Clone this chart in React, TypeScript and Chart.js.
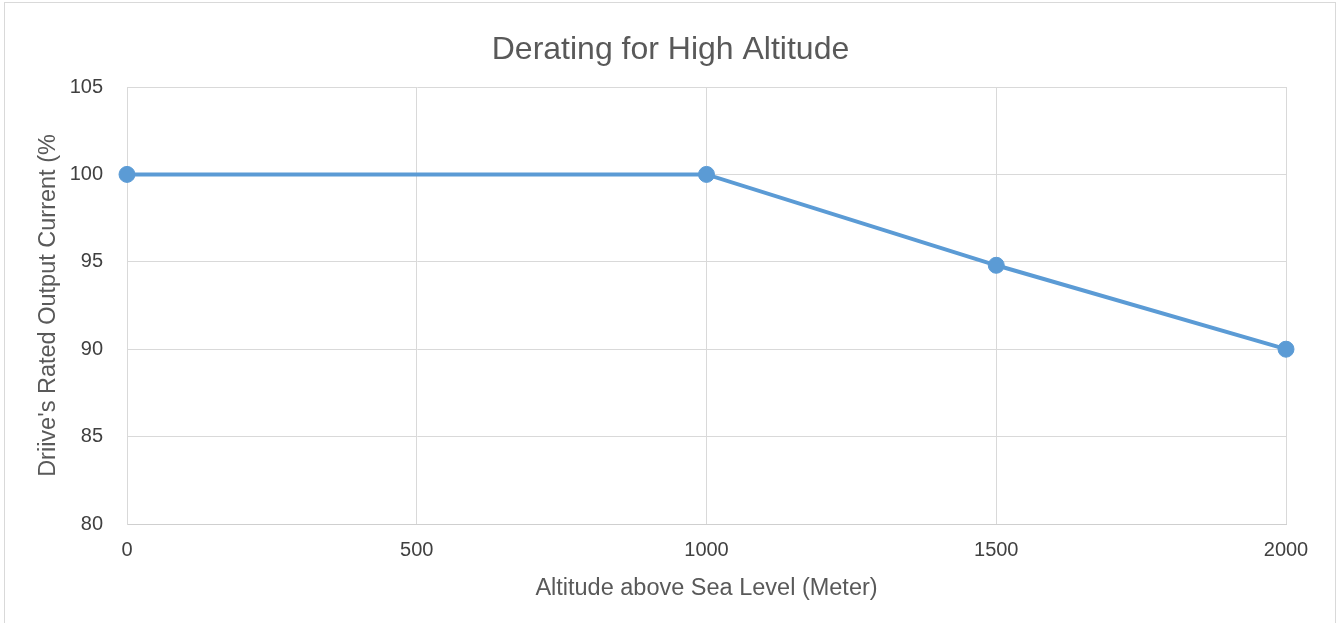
import React, { useEffect, useRef } from "react";
import { Chart, registerables } from "chart.js";

Chart.register(...registerables);

const chartTitle = "Derating for High Altitude";
const xAxisTitle = "Altitude above Sea Level (Meter)";
const yAxisTitle = "Driive's Rated Output Current (%";
const altitudes = [0, 1000, 1500, 2000];
const ratedCurrent = [100, 100, 94.8, 90];
const xTickMin = 0;
const xTickMax = 2000;
const xTickStep = 500;
const yTickMin = 80;
const yTickMax = 105;
const yTickStep = 5;

const FONT = "'Liberation Sans', Arial, sans-serif";
const GRID = "#d9d9d9";
const LINE = "#5b9bd5";

export default function App() {
  const canvasRef = useRef<HTMLCanvasElement | null>(null);

  useEffect(() => {
    const canvas = canvasRef.current;
    if (!canvas) return;
    const points = altitudes.map((x, i) => ({ x, y: ratedCurrent[i] }));
    const chart = new Chart(canvas, {
      type: "line",
      data: {
        datasets: [
          {
            label: "Rated Output Current",
            data: points,
            borderColor: LINE,
            backgroundColor: LINE,
            borderWidth: 4,
            pointRadius: 8,
            pointBorderWidth: 1,
            pointBackgroundColor: LINE,
            pointBorderColor: LINE,
            tension: 0,
            clip: false as any,
          },
        ],
      },
      options: {
        animation: false,
        responsive: true,
        maintainAspectRatio: false,
        layout: { padding: { left: 0, right: 0, top: 0, bottom: 0 } },
        plugins: {
          legend: { display: false },
          tooltip: { enabled: false },
          title: {
            display: true,
            text: chartTitle,
            color: "#595959",
            font: { family: FONT, size: 32, weight: "normal" },
            padding: { top: 30.8, bottom: 17.8 },
          },
        },
        scales: {
          x: {
            type: "linear",
            min: xTickMin,
            max: xTickMax,
            ticks: {
              stepSize: xTickStep,
              color: "#404040",
              font: { family: FONT, size: 20 },
              padding: 14,
              maxRotation: 0,
              callback: (v: any) => String(v),
            },
            grid: { color: GRID, drawTicks: false },
            border: { color: "#cfcfcf" },
            title: {
              display: true,
              text: xAxisTitle,
              color: "#595959",
              font: { family: FONT, size: 23.5 },
              padding: { top: 4, bottom: 20.7 },
            },
            afterFit: (scale: any) => {
              scale.height = 99;
            },
          },
          y: {
            type: "linear",
            min: yTickMin,
            max: yTickMax,
            ticks: {
              stepSize: yTickStep,
              color: "#404040",
              font: { family: FONT, size: 20 },
              padding: 24,
              callback: (v: any) => String(v),
            },
            grid: { color: GRID, drawTicks: false },
            border: { color: GRID },
            title: {
              display: true,
              text: yAxisTitle,
              color: "#595959",
              font: { family: FONT, size: 23.5 },
              padding: { top: 34.4, bottom: 4 },
            },
            afterFit: (scale: any) => {
              scale.width = 127;
            },
          },
          rightSpace: {
            type: "linear",
            position: "right",
            min: yTickMin,
            max: yTickMax,
            ticks: { display: false },
            grid: { display: false, drawTicks: false },
            border: { display: false },
            afterFit: (scale: any) => {
              scale.width = 55;
            },
          },
        },
      },
    });
    return () => chart.destroy();
  }, []);

  return (
    <div
      style={{
        position: "fixed",
        left: 0,
        top: 0,
        width: 1341,
        height: 623,
        overflow: "hidden",
        background: "#ffffff",
      }}
    >
      <div
        style={{
          position: "absolute",
          left: 4,
          top: 2,
          width: 1332,
          height: 660,
          border: "1px solid #d9d9d9",
          boxSizing: "border-box" as any,
        }}
      />
      <div style={{ position: "absolute", left: 0, top: 0, width: 1341, height: 623 }}>
        <canvas ref={canvasRef} />
      </div>
    </div>
  );
}
